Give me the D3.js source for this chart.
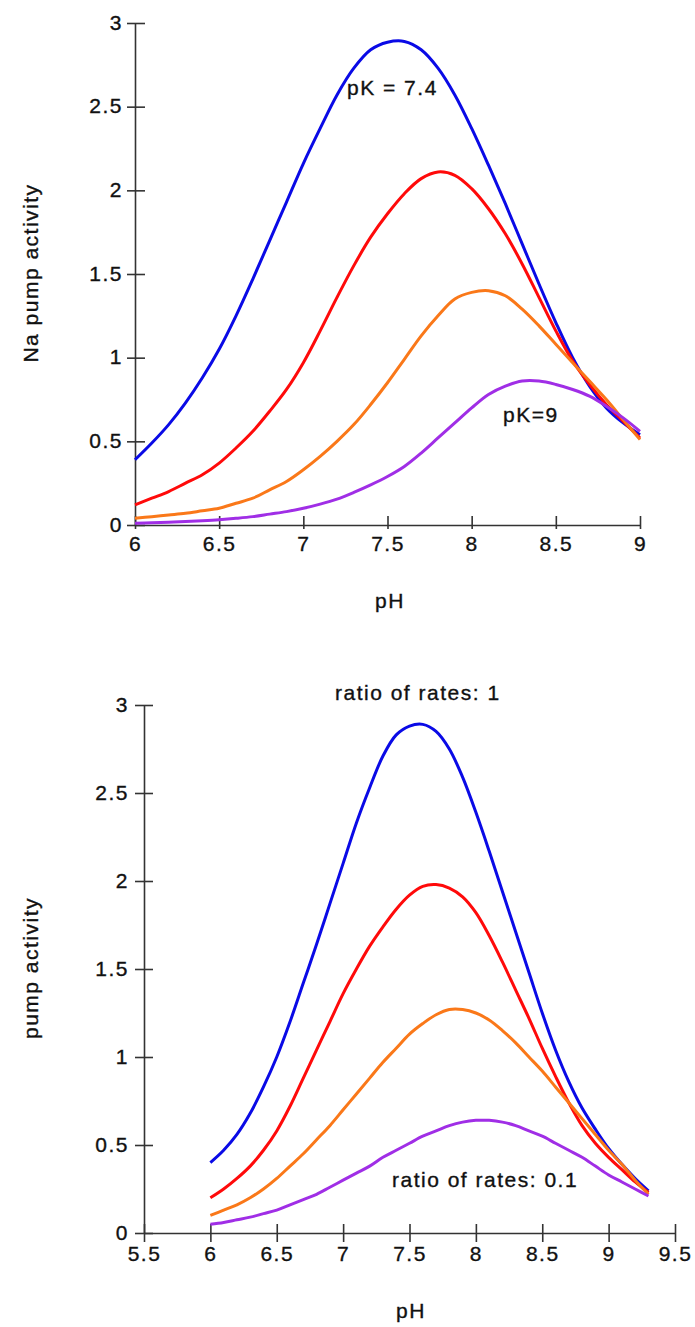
<!DOCTYPE html>
<html>
<head>
<meta charset="utf-8">
<script src="https://cdn.jsdelivr.net/npm/d3@7"></script>
<style>
  body { margin: 0; background: #ffffff; }
  svg { display: block; }
</style>
</head>
<body>
<svg id="chart" width="695" height="1327"></svg>
<script>
// pH sample points (0.1 steps)
const phTop = [6.0, 6.1, 6.2, 6.3, 6.4, 6.5, 6.6, 6.7, 6.8, 6.9, 7.0, 7.1, 7.2, 7.3, 7.4, 7.5,
  7.6, 7.7, 7.8, 7.9, 8.0, 8.1, 8.2, 8.3, 8.4, 8.5, 8.6, 8.7, 8.8, 8.9, 9.0];
const phBottom = [6.0, 6.1, 6.2, 6.3, 6.4, 6.5, 6.6, 6.7, 6.8, 6.9, 7.0, 7.1, 7.2, 7.3, 7.4, 7.5,
  7.6, 7.7, 7.8, 7.9, 8.0, 8.1, 8.2, 8.3, 8.4, 8.5, 8.6, 8.7, 8.8, 8.9, 9.0, 9.1, 9.2, 9.3];

// top panel: Na pump activity, pK = 7.4 (blue) ... pK = 9 (purple)
const topBlue = [0.39, 0.49, 0.60, 0.73, 0.88, 1.05, 1.25, 1.47, 1.70, 1.93, 2.16, 2.37, 2.57, 2.73, 2.84, 2.885,
  2.89, 2.84, 2.73, 2.57, 2.37, 2.15, 1.92, 1.68, 1.44, 1.21, 1.00, 0.83, 0.70, 0.61, 0.54];
const topRed = [0.12, 0.16, 0.20, 0.25, 0.30, 0.37, 0.46, 0.56, 0.68, 0.81, 0.97, 1.16, 1.36, 1.55, 1.72, 1.86,
  1.98, 2.07, 2.11, 2.09, 2.01, 1.89, 1.74, 1.56, 1.36, 1.16, 0.98, 0.84, 0.72, 0.62, 0.52];
const topOrange = [0.04, 0.05, 0.06, 0.07, 0.085, 0.10, 0.13, 0.16, 0.21, 0.26, 0.33, 0.41, 0.50, 0.60, 0.72, 0.85,
  0.99, 1.13, 1.25, 1.35, 1.39, 1.40, 1.37, 1.29, 1.19, 1.08, 0.97, 0.86, 0.75, 0.63, 0.51];
const topPurple = [0.01, 0.013, 0.017, 0.021, 0.026, 0.032, 0.04, 0.05, 0.065, 0.08, 0.10, 0.125, 0.155, 0.195, 0.24, 0.29,
  0.35, 0.43, 0.52, 0.61, 0.70, 0.78, 0.83, 0.86, 0.86, 0.84, 0.81, 0.77, 0.71, 0.64, 0.56];

// bottom panel: pump activity, ratio of rates 1 (blue) ... 0.1 (purple)
const botBlue = [0.40, 0.47, 0.56, 0.68, 0.83, 1.00, 1.20, 1.42, 1.64, 1.87, 2.10, 2.33, 2.53, 2.71, 2.83, 2.88,
  2.89, 2.85, 2.75, 2.59, 2.39, 2.17, 1.94, 1.71, 1.48, 1.25, 1.04, 0.86, 0.71, 0.59, 0.48, 0.39, 0.31, 0.24];
const botRed = [0.20, 0.25, 0.31, 0.38, 0.47, 0.58, 0.72, 0.88, 1.04, 1.20, 1.36, 1.50, 1.63, 1.74, 1.84, 1.92,
  1.97, 1.98, 1.96, 1.91, 1.82, 1.69, 1.54, 1.38, 1.22, 1.05, 0.89, 0.74, 0.61, 0.51, 0.43, 0.36, 0.29, 0.23];
const botOrange = [0.10, 0.13, 0.16, 0.20, 0.25, 0.31, 0.38, 0.45, 0.53, 0.61, 0.70, 0.79, 0.88, 0.97, 1.05, 1.13,
  1.19, 1.24, 1.27, 1.27, 1.25, 1.21, 1.15, 1.08, 1.00, 0.92, 0.83, 0.74, 0.65, 0.56, 0.47, 0.39, 0.30, 0.22];
const botPurple = [0.05, 0.06, 0.075, 0.09, 0.11, 0.13, 0.16, 0.19, 0.22, 0.26, 0.30, 0.34, 0.38, 0.43, 0.47, 0.51,
  0.55, 0.58, 0.61, 0.63, 0.64, 0.64, 0.63, 0.61, 0.58, 0.55, 0.51, 0.47, 0.43, 0.38, 0.33, 0.29, 0.25, 0.21];

const yTicks = [0, 0.5, 1, 1.5, 2, 2.5, 3];
const xTicksTop = [6, 6.5, 7, 7.5, 8, 8.5, 9];
const xTicksBottom = [5.5, 6, 6.5, 7, 7.5, 8, 8.5, 9, 9.5];

const colors = ["#0a0ae6", "#ff0a0a", "#fa7819", "#a02ee6"];

const svg = d3.select("#chart");
const FONT = "'Liberation Sans', Arial, sans-serif";

function styleText(sel) {
  return sel
    .style("font-family", FONT)
    .style("font-size", "21px")
    .style("letter-spacing", "1.5px")
    .style("fill", "#111")
    .style("stroke", "#111")
    .style("stroke-width", "0.35px");
}

function addText(x, y, str, anchor, rotate) {
  let t = svg.append("text")
    .attr("x", x)
    .attr("y", y)
    .text(str)
    .style("text-anchor", anchor || "start");
  styleText(t);
  if (rotate) t.attr("transform", "rotate(-90," + x + "," + y + ")");
  return t;
}

function drawPanel(opts) {
  let x = d3.scaleLinear().domain(opts.xDomain).range(opts.xRange);
  let y = d3.scaleLinear().domain([0, 3]).range(opts.yRange);
  let g = svg.append("g");

  // x axis, ticks cross the line
  let xAxis = g.append("g")
    .attr("transform", "translate(0," + opts.yRange[0] + ")")
    .call(d3.axisBottom(x).tickValues(opts.xTicks).tickSizeOuter(0).tickSizeInner(opts.xOut)
      .tickFormat(d3.format("")));
  xAxis.selectAll(".tick line").attr("y1", -opts.xIn);
  styleText(xAxis.selectAll(".tick text").attr("y", opts.xLabelGap).attr("dy", "0.71em"));

  let yAxis = g.append("g")
    .attr("transform", "translate(" + opts.xRange[0] + ",0)")
    .call(d3.axisLeft(y).tickValues(yTicks).tickSizeOuter(0).tickSizeInner(opts.yOut)
      .tickFormat(d3.format("")));
  yAxis.selectAll(".tick line").attr("x1", opts.yIn);
  styleText(yAxis.selectAll(".tick text").attr("x", -opts.yLabelGap).attr("dy", "0.3em"));

  g.selectAll(".domain, .tick line").attr("stroke", "#333").attr("stroke-width", 1.6);

  let line = d3.line()
    .x(d => x(d[0]))
    .y(d => y(d[1]))
    .curve(d3.curveCatmullRom.alpha(0.5));

  opts.series.forEach(function(s, i) {
    g.append("path")
      .datum(opts.ph.map((p, j) => [p, s[j]]))
      .attr("d", line)
      .attr("fill", "none")
      .attr("stroke", colors[i])
      .attr("stroke-width", 3)
      .attr("stroke-linejoin", "round");
  });
}

drawPanel({
  xDomain: [6, 9], xRange: [135, 640], yRange: [525, 23],
  xTicks: xTicksTop, ph: phTop,
  series: [topBlue, topRed, topOrange, topPurple],
  xOut: 4, xIn: 9, xLabelGap: 11, yOut: 8, yIn: 10, yLabelGap: 12
});

drawPanel({
  xDomain: [5.5, 9.5], xRange: [144, 675], yRange: [1233, 705],
  xTicks: xTicksBottom, ph: phBottom,
  series: [botBlue, botRed, botOrange, botPurple],
  xOut: 9, xIn: 9, xLabelGap: 13, yOut: 9, yIn: 9, yLabelGap: 15
});

// labels
addText(38, 273, "Na pump activity", "middle", true);
addText(390, 608, "pH", "middle");
addText(347, 95, "pK = 7.4", "start");
addText(503, 422, "pK=9", "start");

addText(38, 968, "pump activity", "middle", true);
addText(411, 1318, "pH", "middle");
addText(335, 700, "ratio of rates: 1", "start");
addText(392, 1187, "ratio of rates: 0.1", "start");
</script>
</body>
</html>
